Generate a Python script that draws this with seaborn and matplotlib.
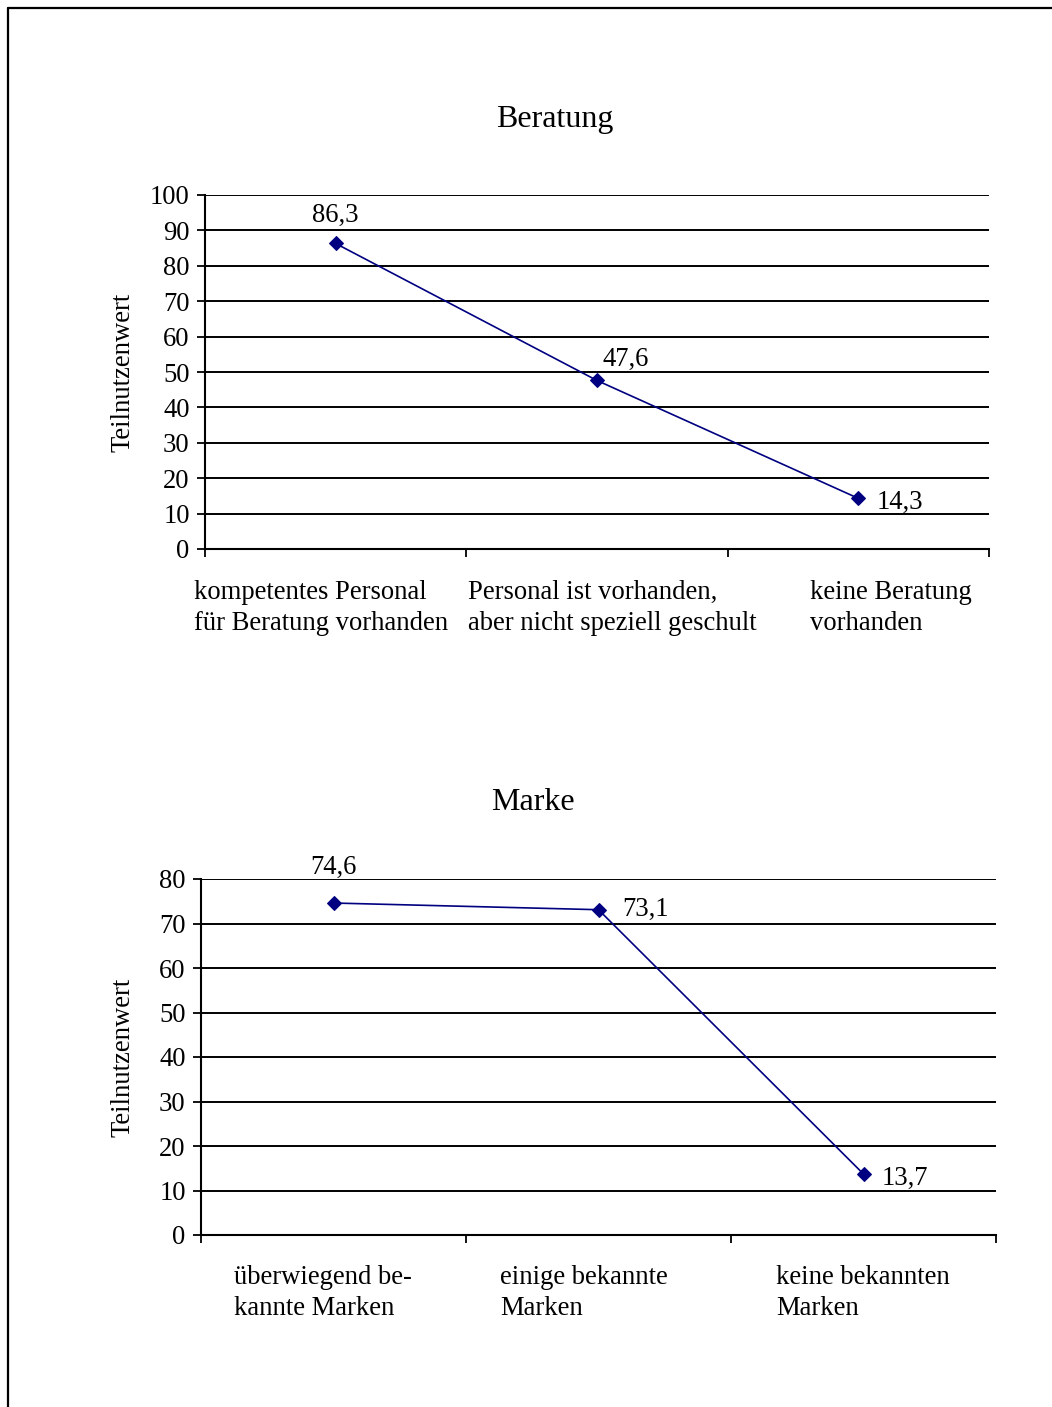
import matplotlib
matplotlib.use("Agg")
import matplotlib.pyplot as plt
import seaborn as sns
from matplotlib.lines import Line2D

# data
beratung_cats = ["kompetentes Personal\nfür Beratung vorhanden",
                 "Personal ist vorhanden,\naber nicht speziell geschult",
                 "keine Beratung\nvorhanden"]
beratung_vals = [86.3, 47.6, 14.3]

marke_cats = ["überwiegend be-\nkannte Marken",
              "einige bekannte\nMarken",
              "keine bekannten\nMarken"]
marke_vals = [74.6, 73.1, 13.7]

sns.set_style("white")
plt.rcParams["font.family"] = ["Liberation Serif", "DejaVu Serif"]
plt.rcParams["font.size"] = 19.2
for k in ["text.color", "axes.labelcolor", "xtick.color", "ytick.color"]:
    plt.rcParams[k] = "black"

fig = plt.figure(figsize=(10.52, 14.07), dpi=100)

# frame lines (left + top only)
fig.add_artist(Line2D([8/1052, 8/1052], [0, 1 - 8/1407], color="black", lw=1.6))
fig.add_artist(Line2D([8/1052, 1], [1 - 8/1407, 1 - 8/1407], color="black", lw=1.6))


def draw(ax, cats, vals, ymax, label_x, label_y, ylab_x, label_offsets):
    sns.lineplot(x=cats, y=vals, ax=ax, color="#000080", marker="D",
                 markersize=7.5, markeredgecolor="#000080", lw=1.2, sort=False)
    ax.set_xlim(-0.5, 2.5)
    ax.set_ylim(0, ymax)
    ax.set_yticks(range(0, ymax + 1, 10))
    ax.yaxis.grid(True, color="black", lw=1.4)
    ax.set_axisbelow(True)
    ax.set_xticks([-0.5, 0.5, 1.5, 2.5])
    ax.set_xticklabels([])
    for s in ["top", "right"]:
        ax.spines[s].set_visible(False)
    for s in ["left", "bottom"]:
        ax.spines[s].set_color("black")
        ax.spines[s].set_linewidth(1.5)
    ax.tick_params(axis="both", direction="out", length=6, width=1.3,
                   color="black", left=True, bottom=True)
    ax.tick_params(axis="y", pad=5)
    ax.set_ylabel("Teilnutzenwert")
    ax.yaxis.set_label_coords(ylab_x, 0.5)
    ax.set_xlabel("")
    # category labels, left aligned like the original
    for i, c in enumerate(cats):
        ax.text(label_x[i], label_y, c, transform=ax.get_xaxis_transform(),
                ha="left", va="top", linespacing=1.3)
    # value labels
    for i, v in enumerate(vals):
        dx, dy, ha = label_offsets[i]
        ax.annotate(f"{v:.1f}".replace(".", ","), (i, v), xytext=(dx, dy),
                    textcoords="offset points", ha=ha, va="center")


ax1 = fig.add_axes([205/1052, 858/1407, 784/1052, 354/1407])
draw(ax1, beratung_cats, beratung_vals, 100, [-0.543, 0.505, 1.814], -0.088, -0.089,
     [(0, 20, "center"), (4, 15, "left"), (13, -3, "left")])

ax2 = fig.add_axes([201/1052, 172/1407, 795/1052, 356/1407])
draw(ax2, marke_cats, marke_vals, 80, [-0.375, 0.63, 1.67], -0.085, -0.083,
     [(0, 26, "center"), (17, 0, "left"), (13, -3, "left")])

fig.text(555/1052, 1 - 120/1407, "Beratung", ha="center", va="center", fontsize=23)
fig.text(533/1052, 1 - 802/1407, "Marke", ha="center", va="center", fontsize=23)

fig.savefig("out.png", dpi=100, facecolor="white")
